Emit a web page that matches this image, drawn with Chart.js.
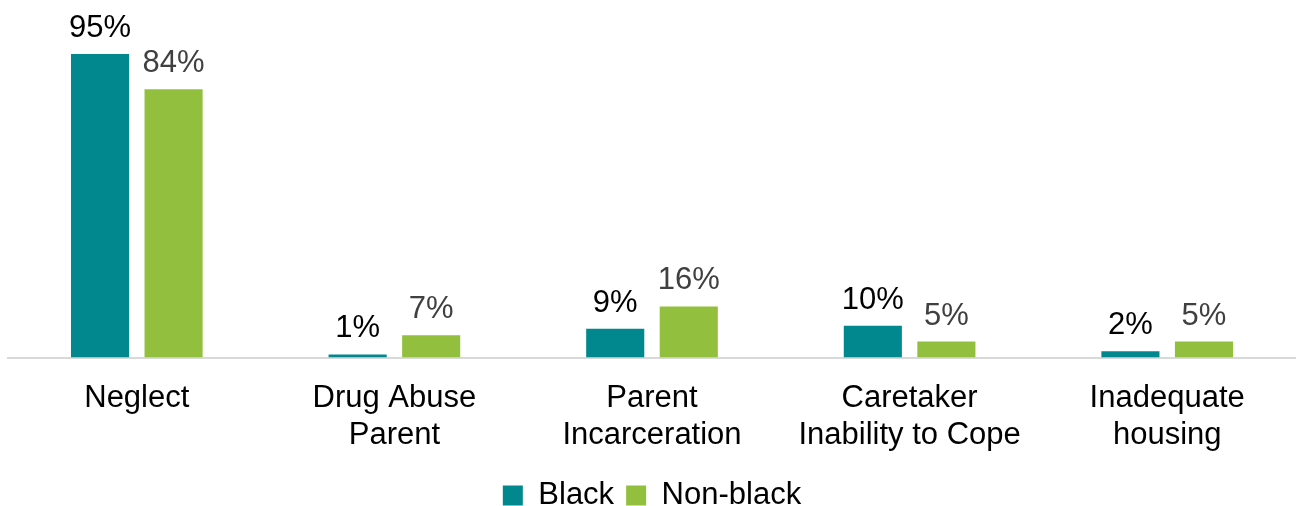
<!DOCTYPE html>
<html>
<head>
<meta charset="utf-8">
<script src="https://cdn.jsdelivr.net/npm/chart.js@4"></script>
<style>
  html, body { margin: 0; padding: 0; background: #ffffff; }
  #wrap { width: 1296px; height: 506px; position: relative; }
</style>
</head>
<body>
<div id="wrap"><canvas id="reasonsChart"></canvas></div>
<script>
// Removal reasons by race
const categories = [
    ['Neglect'],
    ['Drug Abuse', 'Parent'],
    ['Parent', 'Incarceration'],
    ['Caretaker', 'Inability to Cope'],
    ['Inadequate', 'housing']
];
const blackValues = [95, 1, 9, 10, 2];
const nonBlackValues = [84, 7, 16, 5, 5];
const seriesNames = ['Black', 'Non-black'];

const fontFamily = '"Liberation Sans", Arial, sans-serif';

// Draws the % value above each bar
const valueLabels = {
    id: 'valueLabels',
    afterDatasetsDraw(chart) {
        const ctx = chart.ctx;
        ctx.save();
        ctx.font = '31px ' + fontFamily;
        ctx.textAlign = 'center';
        ctx.textBaseline = 'alphabetic';
        chart.data.datasets.forEach((ds, i) => {
            const meta = chart.getDatasetMeta(i);
            ctx.fillStyle = i === 0 ? '#000000' : '#404040';
            meta.data.forEach((bar, j) => {
                ctx.fillText(ds.data[j] + '%', bar.x, bar.y - 17);
            });
        });
        ctx.restore();
    }
};

const ctx = document.getElementById('reasonsChart').getContext('2d');
const reasonsChart = new Chart(ctx, {
    type: 'bar',
    data: {
        labels: categories,
        datasets: [{
            label: seriesNames[0],
            data: blackValues,
            backgroundColor: '#00888E',
            barPercentage: 0.79,
            categoryPercentage: 0.571
        }, {
            label: seriesNames[1],
            data: nonBlackValues,
            backgroundColor: '#92C03E',
            barPercentage: 0.79,
            categoryPercentage: 0.571
        }]
    },
    options: {
        responsive: true,
        maintainAspectRatio: false,
        animation: false,
        // legend sits almost flush with the bottom edge in the original
        layout: { padding: { left: 8, right: 0, top: 38, bottom: -15 } },
        plugins: {
            legend: {
                position: 'bottom',
                labels: {
                    font: { family: fontFamily, size: 31 },
                    color: '#000000',
                    boxWidth: 20,
                    boxHeight: 20,
                    padding: 12
                }
            },
            tooltip: { enabled: false }
        },
        scales: {
            x: {
                grid: { display: false },
                border: { color: '#D9D9D9', width: 2 },
                ticks: {
                    color: '#000000',
                    font: { family: fontFamily, size: 31, lineHeight: 1.2 },
                    padding: 14,
                    maxRotation: 0
                }
            },
            y: {
                display: false,
                min: 0,
                max: 100
            }
        }
    },
    plugins: [valueLabels]
});
</script>
</body>
</html>
